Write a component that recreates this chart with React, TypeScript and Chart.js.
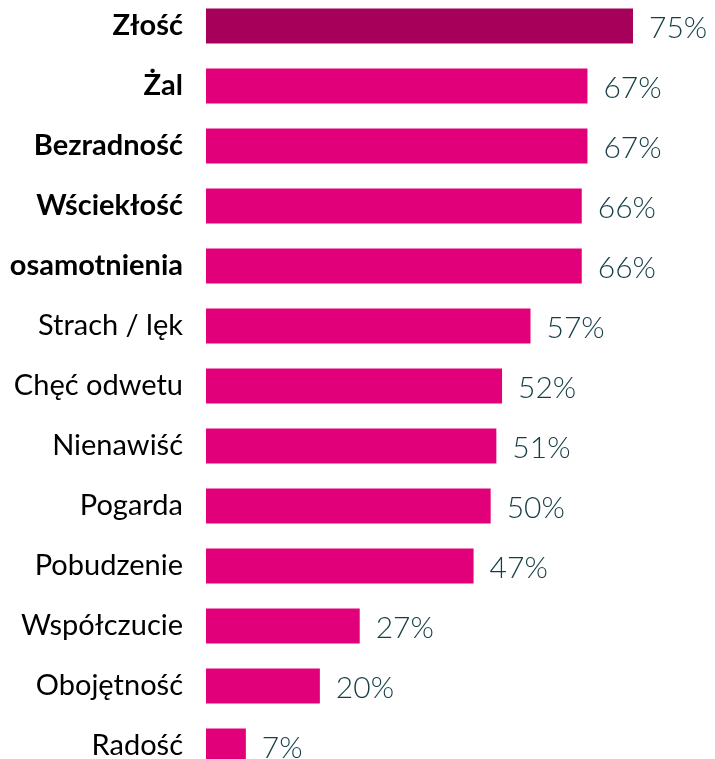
import React, { useEffect, useRef } from "react";
import { Chart, registerables } from "chart.js";

Chart.register(...registerables);

const categories = [
  "Złość",
  "Żal",
  "Bezradność",
  "Wściekłość",
  "osamotnienia",
  "Strach / lęk",
  "Chęć odwetu",
  "Nienawiść",
  "Pogarda",
  "Pobudzenie",
  "Współczucie",
  "Obojętność",
  "Radość",
];
const values = [75, 67, 67, 66, 66, 57, 52, 51, 50, 47, 27, 20, 7];
const boldCount = 5;
const highlightColor = "#A6005A";
const barColor = "#E2007A";
const valueColor = "#153F46";

export default function App() {
  const ref = useRef<HTMLCanvasElement | null>(null);
  useEffect(() => {
    if (!ref.current) return;
    const valueLabels = {
      id: "valueLabels",
      afterDatasetsDraw(chart: any) {
        const ctx = chart.ctx;
        const meta = chart.getDatasetMeta(0);
        ctx.save();
        ctx.font = "300 30px Lato";
        ctx.fillStyle = valueColor;
        ctx.textAlign = "left";
        ctx.textBaseline = "middle";
        meta.data.forEach((bar: any, i: number) => {
          ctx.fillText(`${values[i]}%`, bar.x + 16, bar.y + 2);
        });
        ctx.restore();
      },
    };
    const chart = new Chart(ref.current, {
      type: "bar",
      data: {
        labels: categories,
        datasets: [
          {
            data: values,
            backgroundColor: values.map((_, i) => (i === 0 ? highlightColor : barColor)),
            barPercentage: 35 / 60,
            categoryPercentage: 1,
          },
        ],
      },
      options: {
        indexAxis: "y",
        animation: false,
        responsive: false,
        maintainAspectRatio: false,
        layout: { padding: { left: 0, right: 8, top: 0, bottom: 0 } },
        plugins: { legend: { display: false }, tooltip: { enabled: false } },
        scales: {
          x: { display: false, min: 0, max: 88 },
          y: {
            afterFit(scale: any) {
              scale.width = 206;
              scale.paddingTop = 0;
              scale.paddingBottom = 0;
            },
            grid: { display: false, drawTicks: false },
            border: { display: false },
            ticks: {
              padding: 23,
              color: "#000000",
              font: (c: any) => ({
                family: "Lato",
                size: 29,
                weight: c.index < boldCount ? "bold" : "normal",
              }),
            },
          },
        },
      },
      plugins: [valueLabels],
    });
    return () => chart.destroy();
  }, []);
  return (
    <div
      style={{
        position: "fixed",
        left: 0,
        top: 0,
        width: 715,
        height: 759,
        overflow: "hidden",
        background: "#fff",
      }}
    >
      <canvas
        ref={ref}
        width={715}
        height={780}
        style={{ position: "absolute", left: 0, top: -4.5, width: 715, height: 780 }}
      />
    </div>
  );
}
